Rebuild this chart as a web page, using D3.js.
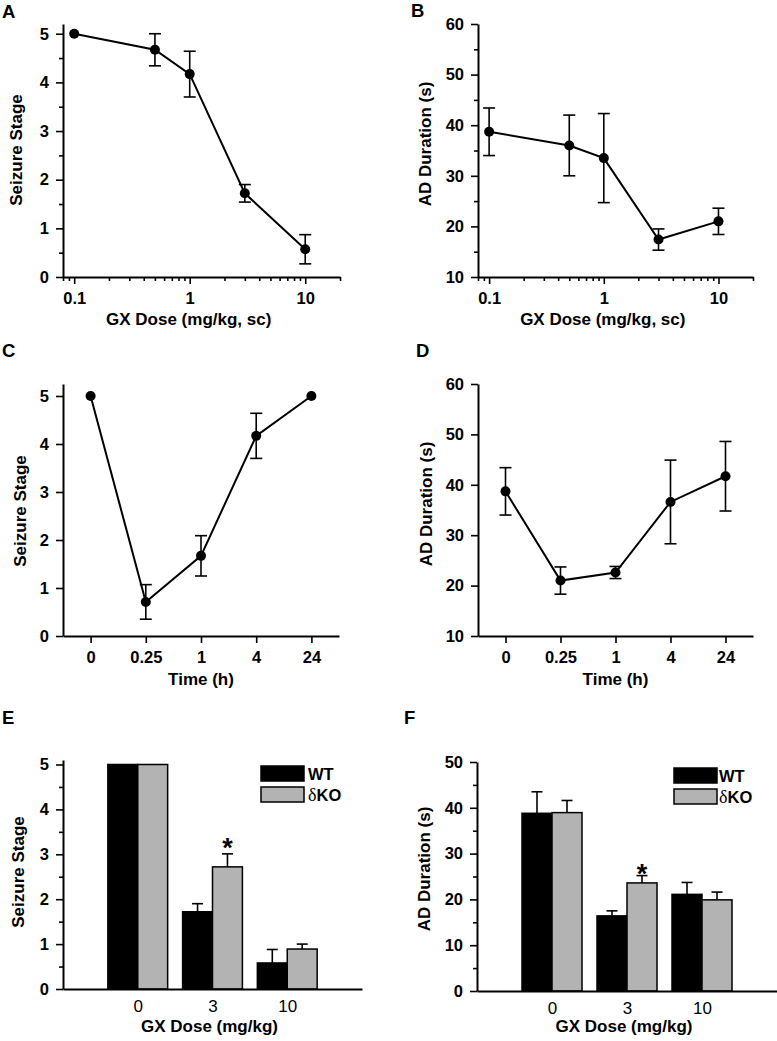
<!DOCTYPE html>
<html>
<head>
<meta charset="utf-8">
<script src="https://cdn.jsdelivr.net/npm/d3@7"></script>
<style>
  html, body { margin: 0; padding: 0; background: #fff; }
  svg { display: block; }
  text { font-family: "Liberation Sans", Arial, sans-serif; fill: #000; }
</style>
</head>
<body>
<svg id="chart" width="777" height="1041"></svg>
<script>
// ---------- DATA ----------
const doseA = [0.1, 0.5, 1, 3, 10];
const stageA = [5.0, 4.67, 4.17, 1.72, 0.57];
const stageAErr = [0, 0.33, 0.47, 0.18, 0.30];

const doseB = [0.1, 0.5, 1, 3, 10];
const durB = [38.7, 36.0, 33.5, 17.4, 21.0];
const durBErr = [4.7, 6.0, 8.8, 2.1, 2.6];

const timeLabels = ["0", "0.25", "1", "4", "24"];
const stageC = [5.0, 0.71, 1.67, 4.17, 5.0];
const stageCErr = [0, 0.36, 0.42, 0.47, 0];

const durD = [38.7, 21.0, 22.6, 36.6, 41.7];
const durDErr = [4.7, 2.7, 1.2, 8.3, 6.9];

const doseGroups = ["0", "3", "10"];
const seriesNames = ["WT", "δKO"];
const stageWT = [5.0, 1.72, 0.58];
const stageWTErr = [0, 0.18, 0.30];
const stageKO = [5.0, 2.72, 0.89];
const stageKOErr = [0, 0.29, 0.11];
const sigE = [false, true, false];

const durWT = [38.8, 16.4, 21.1];
const durWTErr = [4.7, 1.1, 2.6];
const durKO = [38.95, 23.6, 19.9];
const durKOErr = [2.65, 1.6, 1.7];
const sigF = [false, true, false];

const logMajor = [0.1, 1, 10];
const logMinor = [0.08, 0.09, 0.2, 0.3, 0.4, 0.5, 0.6, 0.7, 0.8, 0.9, 2, 3, 4, 5, 6, 7, 8, 9, 20];
const stageTicks = [0, 1, 2, 3, 4, 5];
const stageMinor = [0.5, 1.5, 2.5, 3.5, 4.5];
const durTicks = [10, 20, 30, 40, 50, 60];
const durMinor = [15, 25, 35, 45, 55];
const durBarTicks = [0, 10, 20, 30, 40, 50];
const durBarMinor = [5, 15, 25, 35, 45];

// ---------- HELPERS ----------
const svg = d3.select("#chart");
const TICKFONT = 16.5, TITLEFONT = 17;
const intFmt = d3.format("d");

function styleAxis(g, bold = true, fs = TICKFONT) {
  g.selectAll("path.domain").attr("stroke", "#000").attr("stroke-width", 2);
  g.selectAll(".tick line").attr("stroke", "#000").attr("stroke-width", 1.6);
  g.selectAll(".tick text")
    .attr("font-size", fs)
    .attr("font-weight", bold ? "bold" : "normal")
    .style("font-family", '"Liberation Sans", Arial, sans-serif')
    .attr("fill", "#000");
}

function yAxis(x0, y, major, minor) {
  const g = svg.append("g").attr("transform", `translate(${x0},0)`);
  g.call(d3.axisLeft(y).tickValues(major).tickFormat(intFmt).tickSize(7).tickPadding(7).tickSizeOuter(0));
  styleAxis(g);
  if (minor) {
    const m = svg.append("g").attr("transform", `translate(${x0},0)`);
    m.call(d3.axisLeft(y).tickValues(minor).tickSize(4).tickFormat("").tickSizeOuter(0));
    m.select("path.domain").remove();
    styleAxis(m);
  }
}

function xAxis(y0, scale, major, minor, opts = {}) {
  const ts = opts.tickSize === undefined ? 7 : opts.tickSize;
  const g = svg.append("g").attr("transform", `translate(0,${y0})`);
  let ax = d3.axisBottom(scale).tickSize(ts).tickPadding(opts.padding || 8).tickSizeOuter(0);
  if (major) ax = ax.tickValues(major);
  if (opts.format) ax = ax.tickFormat(opts.format);
  g.call(ax);
  styleAxis(g, opts.bold !== false, opts.fs || TICKFONT);
  if (minor) {
    const m = svg.append("g").attr("transform", `translate(0,${y0})`);
    m.call(d3.axisBottom(scale).tickValues(minor).tickSize(4).tickFormat("").tickSizeOuter(0));
    m.select("path.domain").remove();
    styleAxis(m);
  }
}

function title(x, y, txt) {
  svg.append("text").attr("x", x).attr("y", y).attr("text-anchor", "middle")
    .attr("font-size", TITLEFONT).attr("font-weight", "bold").text(txt);
}
function ytitle(x, y, txt) {
  svg.append("text").attr("transform", `translate(${x},${y}) rotate(-90)`)
    .attr("text-anchor", "middle").attr("dy", "0.35em")
    .attr("font-size", TITLEFONT).attr("font-weight", "bold").text(txt);
}
function letter(x, y, txt) {
  svg.append("text").attr("x", x).attr("y", y).attr("font-size", 18.5)
    .attr("font-weight", "bold").text(txt);
}

function linePlot(xs, ys, errs, xf, y) {
  const pts = xs.map((d, i) => ({ x: xf(d, i), v: ys[i], e: errs[i] }));
  const g = svg.append("g");
  g.append("path").datum(pts)
    .attr("d", d3.line().x(d => d.x).y(d => y(d.v)))
    .attr("fill", "none").attr("stroke", "#000").attr("stroke-width", 2);
  const eb = g.selectAll("g.err").data(pts.filter(d => d.e > 0)).join("g");
  eb.append("line").attr("x1", d => d.x).attr("x2", d => d.x)
    .attr("y1", d => y(d.v + d.e)).attr("y2", d => y(d.v - d.e))
    .attr("stroke", "#000").attr("stroke-width", 1.6);
  [1, -1].forEach(s => {
    eb.append("line").attr("x1", d => d.x - 6).attr("x2", d => d.x + 6)
      .attr("y1", d => y(d.v + s * d.e)).attr("y2", d => y(d.v + s * d.e))
      .attr("stroke", "#000").attr("stroke-width", 1.6);
  });
  g.selectAll("circle").data(pts).join("circle")
    .attr("cx", d => d.x).attr("cy", d => y(d.v)).attr("r", 5).attr("fill", "#000");
}

// ---------- PANEL A ----------
{
  const x = d3.scaleLog().domain([0.08, 20]).range([63, 340]);
  const y = d3.scaleLinear().domain([0, 5.2]).range([277, 24]);
  yAxis(63, y, stageTicks, stageMinor);
  xAxis(277, x, logMajor, logMinor, { format: d3.format("") });
  linePlot(doseA, stageA, stageAErr, d => x(d), y);
  title(x(1) - 1, 325, "GX Dose (mg/kg, sc)");
  ytitle(16, 150, "Seizure Stage");
  letter(2, 18, "A");
}
// ---------- PANEL B ----------
{
  const x = d3.scaleLog().domain([0.08, 20]).range([478, 753]);
  const y = d3.scaleLinear().domain([10, 60]).range([277, 24]);
  yAxis(478, y, durTicks, durMinor);
  xAxis(277, x, logMajor, logMinor, { format: d3.format("") });
  linePlot(doseB, durB, durBErr, d => x(d), y);
  title(x(1) - 1, 325, "GX Dose (mg/kg, sc)");
  ytitle(425, 144, "AD Duration (s)");
  letter(411, 17, "B");
}
// ---------- PANEL C ----------
{
  const x = d3.scalePoint().domain(timeLabels).range([63, 339]).padding(0.5);
  const y = d3.scaleLinear().domain([0, 5.25]).range([636, 384]);
  yAxis(63, y, stageTicks, null);
  xAxis(636, x, null, null, {});
  linePlot(timeLabels, stageC, stageCErr, d => x(d), y);
  title(x("1"), 685, "Time (h)");
  ytitle(20, 511, "Seizure Stage");
  letter(2, 357, "C");
}
// ---------- PANEL D ----------
{
  const x = d3.scalePoint().domain(timeLabels).range([478, 753]).padding(0.5);
  const y = d3.scaleLinear().domain([10, 60]).range([636, 384]);
  yAxis(478, y, durTicks, null);
  xAxis(636, x, null, null, {});
  linePlot(timeLabels, durD, durDErr, d => x(d), y);
  title(x("1"), 685, "Time (h)");
  ytitle(426, 504, "AD Duration (s)");
  letter(416, 357, "D");
}

// ---------- BAR PANELS ----------
function barPanel(cfg) {
  const { x0, x1, yBase, yTopPx, yDomain, yTicks, yMinor, wt, wtE, ko, koE, sig, starDy,
          titleY, ytx, yty, ytxt, legX, legY, legGap, letterPos, letterTxt } = cfg;
  const x = d3.scalePoint().domain(doseGroups).range([x0, x1]).padding(1);
  const bw = x.step() * 0.4;
  const sub = d3.scaleBand().domain(seriesNames).range([-bw, bw]);
  const y = d3.scaleLinear().domain(yDomain).range([yBase, yTopPx]);
  const color = d3.scaleOrdinal().domain(seriesNames).range(["#000", "#b3b3b3"]);
  const rows = [];
  doseGroups.forEach((gname, i) => {
    rows.push({ g: gname, s: seriesNames[0], v: wt[i], e: wtE[i] });
    rows.push({ g: gname, s: seriesNames[1], v: ko[i], e: koE[i] });
  });
  const g = svg.append("g");
  rows.filter(d => d.e > 0).forEach(d => {
    const cx = x(d.g) + sub(d.s) + sub.bandwidth() / 2;
    g.append("line").attr("x1", cx).attr("x2", cx).attr("y1", y(d.v)).attr("y2", y(d.v + d.e))
      .attr("stroke", "#000").attr("stroke-width", 1.6);
    g.append("line").attr("x1", cx - 5.5).attr("x2", cx + 5.5).attr("y1", y(d.v + d.e)).attr("y2", y(d.v + d.e))
      .attr("stroke", "#000").attr("stroke-width", 1.6);
  });
  g.selectAll("rect.bar").data(rows).join("rect")
    .attr("x", d => x(d.g) + sub(d.s)).attr("width", sub.bandwidth())
    .attr("y", d => y(d.v)).attr("height", d => y(yDomain[0]) - y(d.v))
    .attr("fill", d => color(d.s)).attr("stroke", "#000").attr("stroke-width", 1.5);
  doseGroups.forEach((gname, i) => {
    if (sig[i]) {
      const cx = x(gname) + sub(seriesNames[1]) + sub.bandwidth() / 2;
      g.append("text").attr("x", cx).attr("y", y(ko[i] + koE[i]) + starDy)
        .attr("text-anchor", "middle").attr("font-size", 27).attr("font-weight", "bold").text("*");
    }
  });
  yAxis(x0, y, yTicks, yMinor);
  xAxis(yBase, x, null, null, { tickSize: 0, padding: 11, bold: false, fs: 17 });
  title(x(doseGroups[1]) - 3, titleY, "GX Dose (mg/kg)");
  ytitle(ytx, yty, ytxt);
  letter(letterPos[0], letterPos[1], letterTxt);
  const lg = svg.append("g").attr("transform", `translate(${legX},${legY})`);
  seriesNames.forEach((s, i) => {
    lg.append("rect").attr("x", 0).attr("y", i * 21).attr("width", 43).attr("height", 15)
      .attr("fill", color(s)).attr("stroke", "#000").attr("stroke-width", 1.5);
    const t = lg.append("text").attr("x", 43 + legGap).attr("y", i * 21 + 13.5).attr("font-size", 16.5).attr("font-weight", "bold");
    if (s.startsWith("δ")) {
      t.append("tspan").text("δ").attr("font-weight", "normal").attr("font-size", 18)
        .style("font-family", '"Liberation Serif", "Times New Roman", serif');
      t.append("tspan").text(s.slice(1));
    } else {
      t.text(s);
    }
  });
}

barPanel({ x0: 63, x1: 362, yBase: 989, yTopPx: 760, yDomain: [0, 5.1], yTicks: stageTicks, yMinor: stageMinor,
  wt: stageWT, wtE: stageWTErr, ko: stageKO, koE: stageKOErr, sig: sigE, starDy: 3,
  titleY: 1032, ytx: 18, yty: 872, ytxt: "Seizure Stage", legX: 261, legY: 766, legGap: 4,
  letterPos: [2, 724], letterTxt: "E" });
barPanel({ x0: 477, x1: 777, yBase: 991, yTopPx: 762, yDomain: [0, 50], yTicks: durBarTicks, yMinor: durBarMinor,
  wt: durWT, wtE: durWTErr, ko: durKO, koE: durKOErr, sig: sigF, starDy: 7,
  titleY: 1032, ytx: 424, yty: 869, ytxt: "AD Duration (s)", legX: 674, legY: 768, legGap: 2,
  letterPos: [404, 724], letterTxt: "F" });
</script>
</body>
</html>
